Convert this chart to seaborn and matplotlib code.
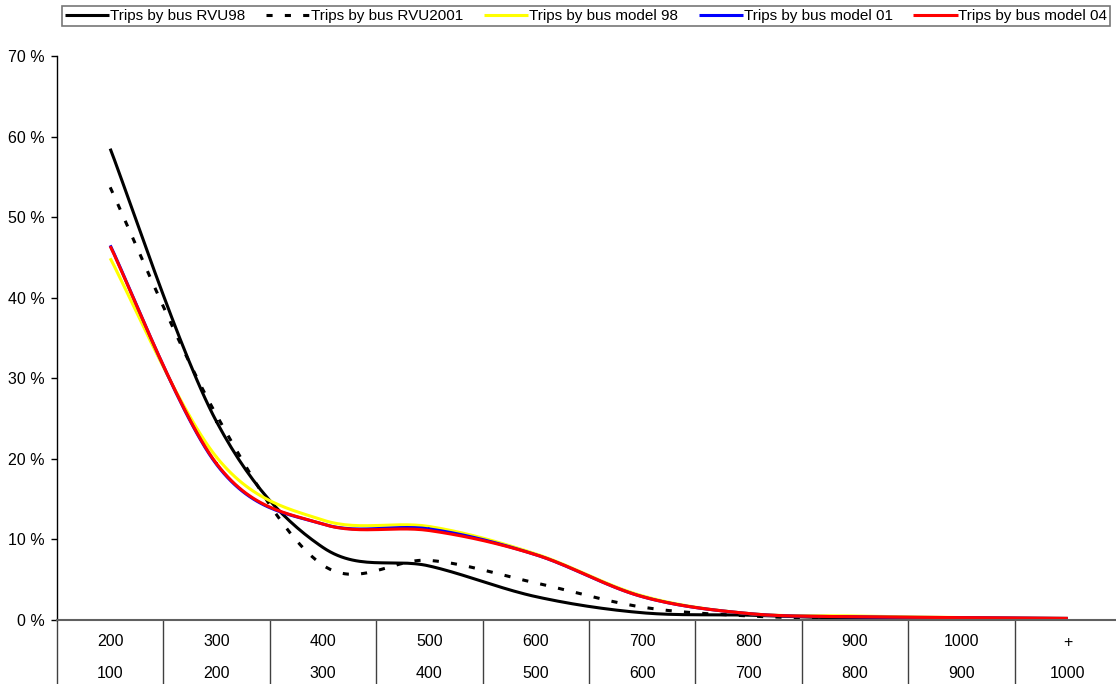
import numpy as np
import pandas as pd
import matplotlib
matplotlib.use('Agg')
import matplotlib.pyplot as plt
import seaborn as sns

# category labels (upper / lower row of the x axis)
upper_labels = ['200', '300', '400', '500', '600', '700', '800', '900', '1000', '+']
lower_labels = ['100', '200', '300', '400', '500', '600', '700', '800', '900', '1000']

# shares in percent
rvu98 = [58.5, 24.6, 9.0, 6.7, 2.9, 0.9, 0.6, 0.2, 0.1, 0.1]
rvu2001 = [53.7, 25.4, 6.8, 7.4, 4.6, 1.6, 0.5, 0.2, 0.1, 0.1]
model98 = [44.9, 20.2, 12.4, 11.6, 8.2, 3.0, 0.8, 0.5, 0.3, 0.2]
model01 = [46.5, 19.3, 11.9, 11.3, 8.1, 2.9, 0.8, 0.4, 0.3, 0.2]
model04 = [46.4, 19.4, 11.9, 11.1, 8.1, 2.9, 0.8, 0.4, 0.3, 0.2]

series = [
    ('Trips by bus RVU98', rvu98, 'black', '-'),
    ('Trips by bus RVU2001', rvu2001, 'black', '--'),
    ('Trips by bus model 98', model98, '#FFFF00', '-'),
    ('Trips by bus model 01', model01, '#0000FF', '-'),
    ('Trips by bus model 04', model04, '#FF0000', '-'),
]


def smooth(y, n=30):
    # Catmull-Rom spline through the points, similar to Excel's smoothed line
    y = np.asarray(y, dtype=float)
    x = np.arange(len(y), dtype=float)
    px = np.concatenate([[x[0]], x, [x[-1]]])
    py = np.concatenate([[y[0]], y, [y[-1]]])
    xs, ys = [], []
    t = np.linspace(0, 1, n)
    for i in range(1, len(px) - 2):
        for p, out in ((px, xs), (py, ys)):
            p0, p1, p2, p3 = p[i - 1], p[i], p[i + 1], p[i + 2]
            out.append(0.5 * ((2 * p1) + (-p0 + p2) * t
                              + (2 * p0 - 5 * p1 + 4 * p2 - p3) * t ** 2
                              + (-p0 + 3 * p1 - 3 * p2 + p3) * t ** 3))
    return np.concatenate(xs), np.concatenate(ys)


sns.set_style('white')
plt.rcParams['font.family'] = ['Liberation Sans', 'DejaVu Sans']
plt.rcParams['text.color'] = 'black'
plt.rcParams['xtick.color'] = 'black'
plt.rcParams['ytick.color'] = 'black'

fig = plt.figure(figsize=(11.16, 6.84), dpi=100)
ax = fig.add_axes([57 / 1116, 64 / 684, 1064 / 1116, 564 / 684])

for name, vals, color, ls in series:
    sx, sy = smooth(vals)
    df = pd.DataFrame({'x': sx, 'y': sy})
    sns.lineplot(data=df, x='x', y='y', ax=ax, color=color, linewidth=2.2,
                 sort=False, estimator=None, label=name)
    line = ax.lines[-1]
    if ls == '--':
        line.set_dashes((2, 4))
    line.set_solid_capstyle('butt')

ax.set_xlim(-0.5, 9.5)
ax.set_ylim(0, 70)
ax.set_xlabel('')
ax.set_ylabel('')

# y axis
ax.set_yticks(np.arange(0, 71, 10))
ax.set_yticklabels([f'{v} %' for v in range(0, 71, 10)], fontsize=11.5, color='black')
ax.tick_params(axis='y', direction='out', length=4, width=1, color='black', pad=5, left=True)

# x axis: category boundaries as long tick lines, two rows of labels
ax.set_xticks(np.arange(-0.5, 9.5, 1.0))
ax.set_xticklabels([])
ax.tick_params(axis='x', direction='out', length=47, width=1, color='#404040', bottom=True)
trans = ax.get_xaxis_transform()
for i, (u, l) in enumerate(zip(upper_labels, lower_labels)):
    ax.text(i, -22 / 564, u, transform=trans, ha='center', va='center', fontsize=11.5, color='black')
    ax.text(i, -54 / 564, l, transform=trans, ha='center', va='center', fontsize=11.5, color='black')

sns.despine(ax=ax, top=True, right=True)
ax.spines['left'].set_color('black')
ax.spines['left'].set_linewidth(1)
ax.spines['bottom'].set_color('#606060')
ax.spines['bottom'].set_linewidth(1.5)
ax.grid(False)

leg = ax.legend(loc='center left', bbox_to_anchor=(62 / 1116, 1 - 16 / 684),
                bbox_transform=fig.transFigure, ncol=5, fontsize=11,
                frameon=True, fancybox=False, handlelength=2.9, handletextpad=0.05,
                columnspacing=1.35, borderpad=0.2, borderaxespad=0)
leg.get_frame().set_edgecolor('#555555')
leg.get_frame().set_linewidth(1.2)
for txt in leg.get_texts():
    txt.set_color('black')

plt.savefig('out.png', dpi=100)
